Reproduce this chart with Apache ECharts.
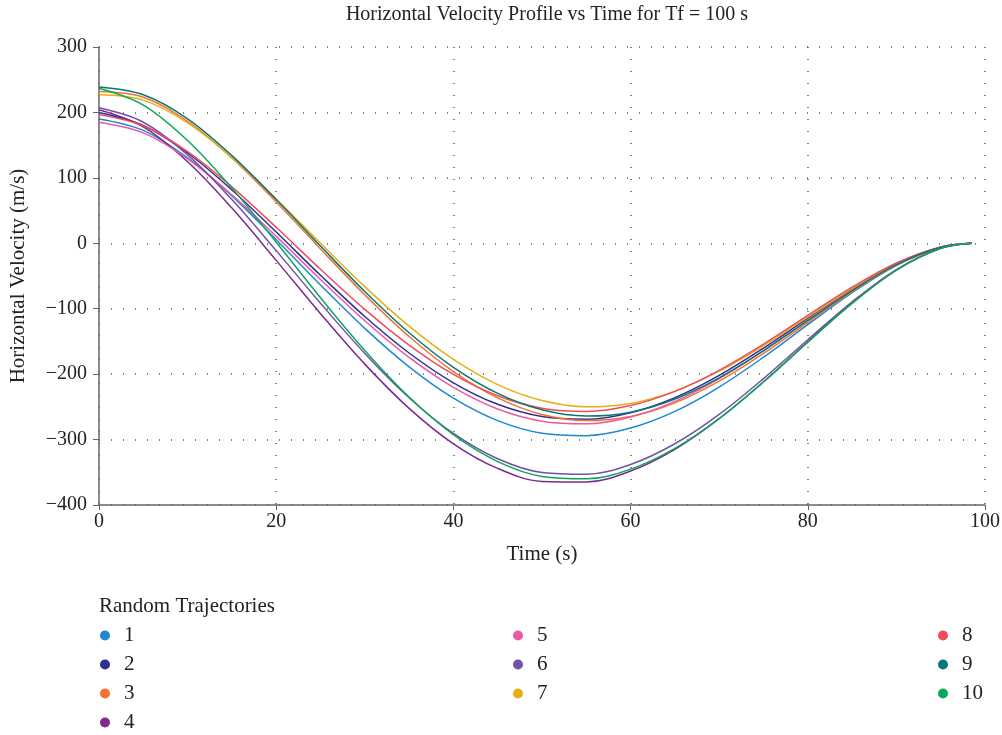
<!DOCTYPE html>
<html>
<head>
<meta charset="utf-8">
<title>Horizontal Velocity Profile</title>
<script src="https://cdn.jsdelivr.net/npm/echarts@6/dist/echarts.min.js"></script>
<style>
  html, body { margin: 0; padding: 0; background: #fff; }
  #chart { width: 1002px; height: 735px; }
</style>
</head>
<body>
<div id="chart"></div>
<script>
// sample times (s)
const times = [0, 5, 10, 15, 20, 25, 30, 35, 40, 45, 50, 55, 60, 65, 70, 75, 80, 85, 90, 95, 98.5];

// horizontal velocity (m/s), one array per trajectory
const traj1 = [190, 172.5, 130.5, 72.4, 5.5, -63.7, -130.0, -188.8, -236.6, -271.0, -290.3, -294.0, -282.4, -256.9, -219.7, -174.1, -124.3, -75.5, -33.9, -6.5, 0];
const traj2 = [200, 180.0, 138.0, 81.5, 17.2, -48.9, -111.9, -167.7, -213.2, -246.1, -264.8, -269.0, -258.9, -235.9, -201.9, -160.2, -114.4, -69.6, -31.2, -5.9, 0];
const traj3 = [232, 223.3, 186.4, 130.4, 63.1, -8.6, -78.8, -142.5, -196.0, -236.3, -261.6, -271.0, -264.7, -243.9, -210.7, -168.4, -121.1, -74.0, -33.3, -6.4, 0];
const traj4 = [204, 177.8, 124.6, 53.8, -26.1, -107.6, -184.7, -252.3, -306.4, -344.1, -363.9, -365.0, -348.1, -314.9, -268.1, -211.7, -150.7, -91.3, -40.9, -7.8, 0];
const traj5 = [185, 168.7, 129.0, 74.0, 10.5, -55.3, -118.4, -174.5, -220.2, -253.3, -272.0, -276.0, -265.5, -241.7, -206.9, -164.1, -117.2, -71.3, -32.0, -6.1, 0];
const traj6 = [207, 185.0, 135.1, 66.8, -11.2, -91.7, -168.3, -236.0, -290.6, -329.3, -350.3, -353.0, -338.0, -306.4, -261.5, -206.8, -147.5, -89.5, -40.1, -7.6, 0];
const traj7 = [227, 218.8, 184.0, 131.2, 67.7, 0, -66.3, -126.7, -177.5, -216.0, -240.4, -250.0, -244.8, -226.0, -195.5, -156.4, -112.6, -68.8, -31.0, -5.9, 0];
const traj8 = [197, 179.6, 140.2, 86.3, 24.4, -39.7, -101.1, -155.7, -200.5, -233.1, -252.1, -257.0, -248.0, -226.4, -194.2, -154.2, -110.3, -67.1, -30.1, -5.7, 0];
const traj9 = [239, 227.0, 190.3, 134.0, 66.9, -4.3, -73.7, -136.8, -189.6, -229.4, -254.5, -264.0, -258.1, -237.9, -205.6, -164.3, -118.2, -72.2, -32.6, -6.2, 0];
const traj10 = [237, 211.3, 157.1, 84.3, 1.7, -83.1, -163.8, -235.0, -292.6, -333.6, -356.3, -360.0, -345.2, -313.5, -267.8, -212.0, -151.2, -91.8, -41.1, -7.8, 0];

const names = ['1', '2', '3', '4', '5', '6', '7', '8', '9', '10'];
const values = [traj1, traj2, traj3, traj4, traj5, traj6, traj7, traj8, traj9, traj10];
const colors = ['#1f88d0', '#2e3192', '#f47234', '#7b2a8d', '#ec5aa2', '#7052a6', '#e6b012', '#ee4e5c', '#0b7676', '#0ba85a'];

const font = '"Liberation Serif", "DejaVu Serif", serif';

const chart = echarts.init(document.getElementById('chart'));

function legendBlock(data, left) {
  return {
    data: data,
    orient: 'vertical',
    left: left,
    top: 620,
    height: 112,
    icon: 'circle',
    itemWidth: 10,
    itemHeight: 10,
    itemGap: 8,
    textStyle: {fontFamily: font, fontSize: 21, color: '#222', padding: [0, 0, 0, 9], lineHeight: 21}
  };
}

chart.setOption({
  animation: false,
  color: colors,
  title: [
    {
      text: 'Horizontal Velocity Profile vs Time for Tf = 100 s',
      left: 542,
      textAlign: 'center',
      top: 0,
      textStyle: {fontFamily: font, fontSize: 20, fontWeight: 'normal', color: '#222'}
    },
    {
      text: 'Random Trajectories',
      left: 94,
      top: 591,
      textStyle: {fontFamily: font, fontSize: 21, fontWeight: 'normal', color: '#222'}
    }
  ],
  legend: [
    legendBlock(['1', '2', '3', '4'], 95),
    legendBlock(['5', '6', '7'], 508),
    legendBlock(['8', '9', '10'], 933)
  ],
  grid: {left: 99, right: 17, top: 47, bottom: 230, outerBoundsMode: 'none'},
  xAxis: {
    type: 'value',
    min: 0,
    max: 100,
    interval: 20,
    name: 'Time (s)',
    nameLocation: 'middle',
    nameGap: 39,
    nameTextStyle: {fontFamily: font, fontSize: 21, color: '#222'},
    axisLine: {show: true, onZero: false, lineStyle: {color: '#666', width: 1.5}},
    axisTick: {show: true, length: 5, lineStyle: {color: '#666'}},
    axisLabel: {fontFamily: font, fontSize: 20, color: '#222', margin: 7},
    splitLine: {show: true, lineStyle: {color: '#555', type: [1, 11], width: 1.5}}
  },
  yAxis: {
    type: 'value',
    min: -400,
    max: 300,
    interval: 100,
    name: 'Horizontal Velocity (m/s)',
    nameLocation: 'middle',
    nameGap: 70,
    nameTextStyle: {fontFamily: font, fontSize: 21, color: '#222'},
    axisLine: {show: true, onZero: false, lineStyle: {color: '#666', width: 1.5}},
    axisTick: {show: true, length: 6, lineStyle: {color: '#666'}},
    axisLabel: {
      fontFamily: font, fontSize: 20, color: '#222', margin: 12,
      formatter: v => (v < 0 ? '\u2212' + Math.abs(v) : String(v))
    },
    splitLine: {show: true, lineStyle: {color: '#555', type: [1, 11], width: 1.5}}
  },
  series: names.map((n, i) => ({
    name: n,
    type: 'line',
    smooth: 0.35,
    showSymbol: false,
    lineStyle: {width: 1.5, color: colors[i]},
    itemStyle: {color: colors[i]},
    data: times.map((t, j) => [t, values[i][j]])
  }))
});
</script>
</body>
</html>
